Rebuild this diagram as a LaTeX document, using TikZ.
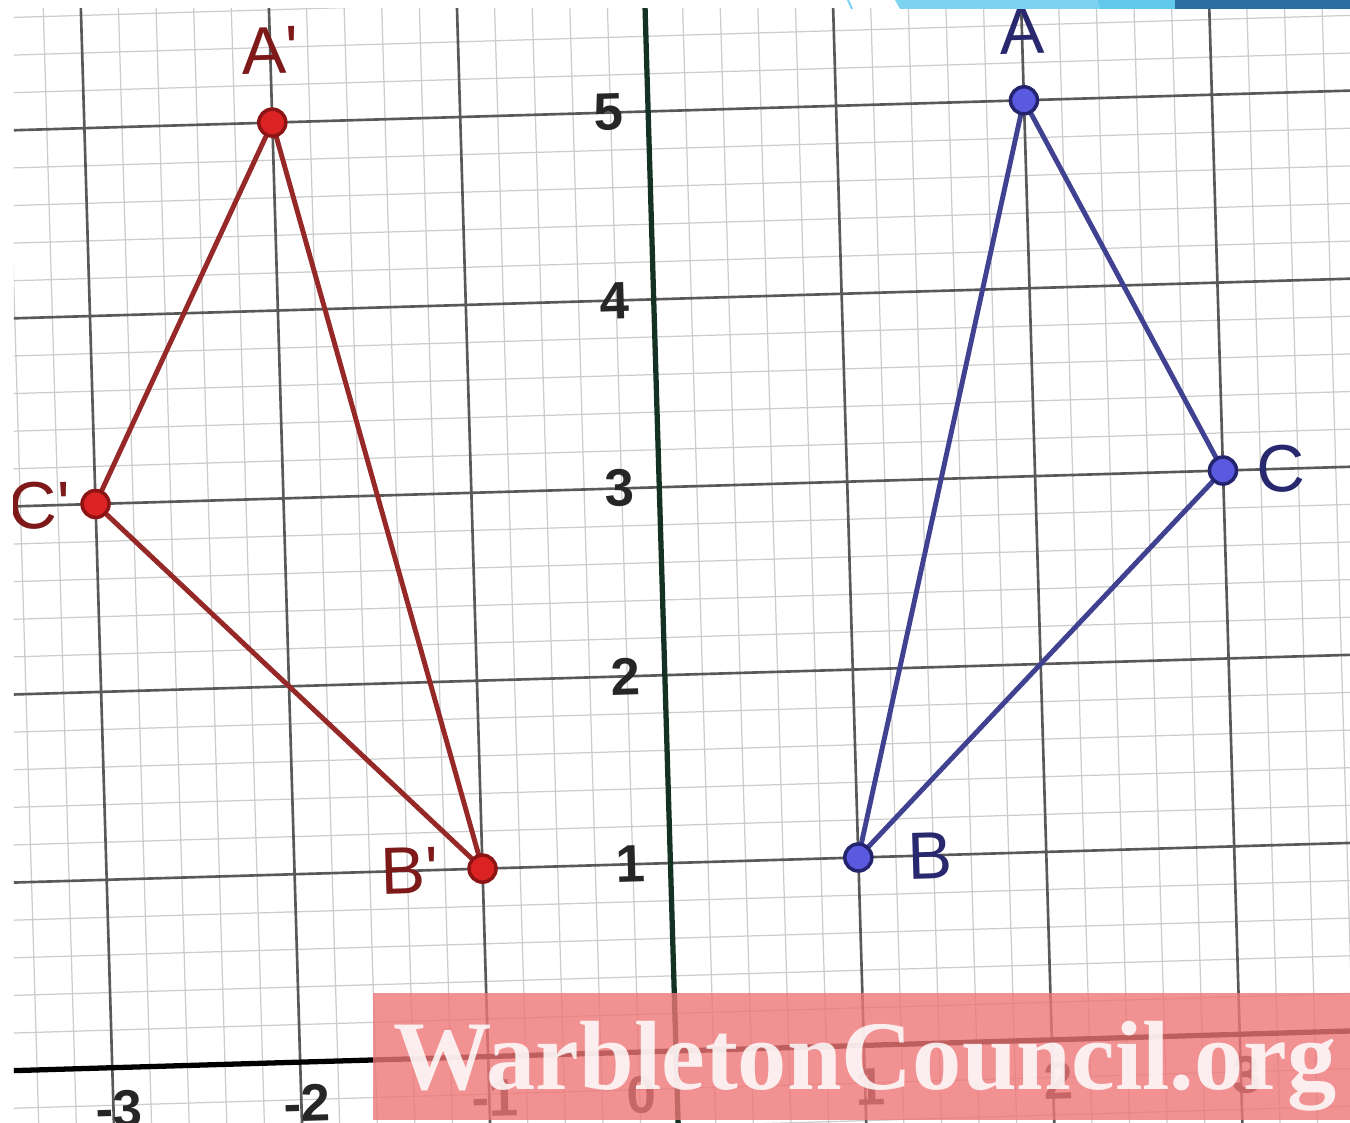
\documentclass[tikz,border=0pt]{standalone}
\usepackage{fontspec}
\setmainfont{Liberation Sans}
\newfontfamily\markfont{Liberation Serif}
\usetikzlibrary{positioning}

\definecolor{redfill}{RGB}{220,35,35}
\definecolor{redrim}{RGB}{140,20,20}
\definecolor{redline}{RGB}{150,40,40}
\definecolor{redtext}{RGB}{125,25,25}
\definecolor{bluefill}{RGB}{90,90,225}
\definecolor{bluerim}{RGB}{35,35,110}
\definecolor{blueline}{RGB}{65,65,145}
\definecolor{bluetext}{RGB}{40,40,110}
\definecolor{axisgreen}{RGB}{20,50,35}
\definecolor{pinkband}{RGB}{238,118,118}
\definecolor{barlight}{RGB}{125,210,240}
\definecolor{barmid}{RGB}{95,200,235}
\definecolor{bardark}{RGB}{45,110,160}

\begin{document}
\begin{tikzpicture}[
        minorgrid/.style={draw=black!20, line width=0.35pt},
        majorgrid/.style={draw=black!65, line width=0.75pt},
        axis/.style={draw=black, line width=1.5pt},
        redtri/.style={draw=redline, line width=1.4pt},
        bluetri/.style={draw=blueline, line width=1.4pt},
        reddot/.style={circle, fill=redfill, draw=redrim, line width=1pt,
          minimum size=0.27cm, inner sep=0pt},
        bluedot/.style={circle, fill=bluefill, draw=bluerim, line width=1pt,
          minimum size=0.27cm, inner sep=0pt},
        ticklabel/.style={font=\bfseries\fontsize{15}{18}\selectfont, text=black!85},
        redlabel/.style={font=\fontsize{19}{22}\selectfont, text=redtext,
          inner sep=1pt},
        bluelabel/.style={font=\fontsize{19}{22}\selectfont, text=bluetext,
          inner sep=1pt},
        watermark/.style={font=\markfont\bfseries\fontsize{28}{32}\selectfont,
          text=white, text opacity=0.85, anchor=base}
      ]
      \useasboundingbox (0,0) rectangle (13.5,11.23);
      \fill[white] (0,0) rectangle (13.5,11.23);

      \begin{scope}
        \clip (0.14,0) rectangle (13.5,11.14);
        \begin{scope}[shift={(6.76,0.72)}, rotate=1.7, x=1.88cm, y=1.88cm,
            transform shape]
          \draw[minorgrid, step=0.2] (-4,-1) grid (4,6.4);
          \draw[majorgrid, step=1] (-4,-1) grid (4,6.4);
          \draw[axis] (-4,0) -- (4,0);
          \draw[axis, draw=axisgreen] (0,-1) -- (0,6.4);

          \foreach \k in {1,...,5}
          \node[ticklabel] (ty\k) at (-0.21,\k) {\k};
          \foreach \k in {-3,-2,-1,1,2,3}
          \node[ticklabel] (tx\k) at (\k+0.03,-0.22) {\k};
          \node[ticklabel] (tx0) at (-0.19,-0.23) {0};

          \coordinate (A) at (2,5);
          \coordinate (B) at (1,1);
          \coordinate (C) at (3,3);
          \coordinate (Ap) at (-2,5);
          \coordinate (Bp) at (-1,1);
          \coordinate (Cp) at (-3,3);

          \draw[bluetri] (A) -- (B) -- (C) -- cycle;
          \draw[redtri] (Ap) -- (Bp) -- (Cp) -- cycle;

          \node[bluedot] (ptA) at (A) {};
          \node[bluedot] (ptB) at (B) {};
          \node[bluedot] (ptC) at (C) {};
          \node[reddot] (ptAp) at (Ap) {};
          \node[reddot] (ptBp) at (Bp) {};
          \node[reddot] (ptCp) at (Cp) {};

          \node[bluelabel, above=0.27cm of ptA] (lblA) {A};
          \node[bluelabel, right=0.3cm of ptB] (lblB) {B};
          \node[bluelabel, right=0.14cm of ptC] (lblC) {C};
          \node[redlabel, above=0.3cm of ptAp] (lblAp) {A\textquotesingle};
          \node[redlabel, left=0.25cm of ptBp] (lblBp) {B\textquotesingle};
          \node[redlabel, left=0.06cm of ptCp] (lblCp) {C\textquotesingle};
        \end{scope}
      \end{scope}

      % top bars
      \fill[barlight] (8.95,11.23) -- (9.0,11.14) -- (11.75,11.14)
      -- (11.75,11.23) -- cycle;
      \fill[barmid] (10.98,11.23) -- (11.0,11.14) -- (11.75,11.14)
      -- (11.75,11.23) -- cycle;
      \fill[bardark] (11.75,11.14) rectangle (13.5,11.23);
      \draw[barlight, line width=0.6pt] (8.48,11.23) -- (8.52,11.14);

      % watermark
      \fill[pinkband, opacity=0.8] (3.73,0.03) rectangle (13.5,1.30);
      \node[watermark] (wm) at (8.65,0.33) {WarbletonCouncil.org};
    \end{tikzpicture}
\end{document}
